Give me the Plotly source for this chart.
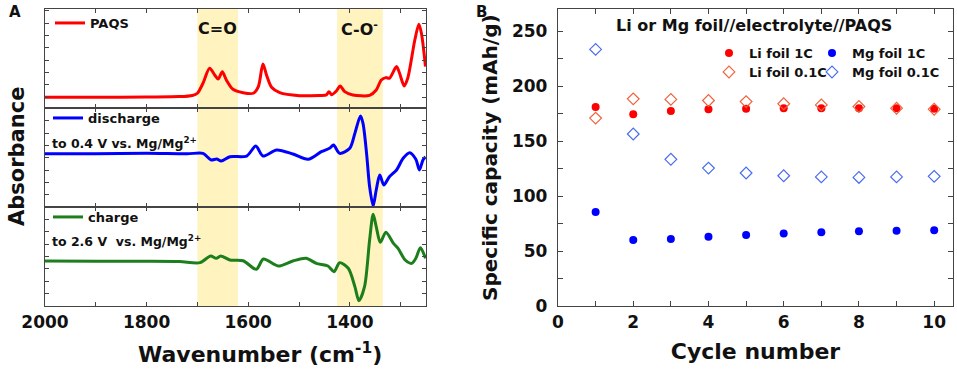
import plotly.graph_objects as go

# ---------------- Panel A data (FTIR spectra) ----------------
paqs_wn = [2000, 1900, 1800, 1735, 1710, 1700, 1689, 1676, 1666, 1659, 1651, 1643, 1630, 1610,
           1590, 1580, 1571, 1564, 1554, 1538, 1499, 1460, 1446, 1441, 1436, 1426, 1419, 1410,
           1394, 1361, 1348, 1338, 1329, 1322, 1308, 1302, 1293, 1286, 1272, 1264, 1259, 1251]
paqs_abs = [0.111, 0.111, 0.114, 0.118, 0.13, 0.152, 0.253, 0.404, 0.337, 0.296, 0.370, 0.286,
            0.192, 0.158, 0.152, 0.219, 0.448, 0.337, 0.212, 0.158, 0.128, 0.13, 0.135, 0.168,
            0.138, 0.178, 0.226, 0.168, 0.135, 0.131, 0.185, 0.286, 0.310, 0.303, 0.421, 0.354,
            0.226, 0.303, 0.690, 0.850, 0.758, 0.421]

dis_wn = [2000, 1900, 1800, 1720, 1689, 1673, 1662, 1653, 1636, 1603, 1585, 1571, 1544, 1512,
          1482, 1456, 1440, 1432, 1420, 1400, 1390, 1379, 1374, 1367, 1361, 1354, 1348, 1341,
          1333, 1322, 1308, 1295, 1282, 1270, 1263, 1256, 1251]
dis_abs = [0.54, 0.54, 0.545, 0.54, 0.545, 0.478, 0.488, 0.468, 0.511, 0.518, 0.619, 0.518,
           0.579, 0.538, 0.485, 0.562, 0.596, 0.629, 0.545, 0.596, 0.747, 0.922, 0.848, 0.545,
           0.208, 0.013, 0.175, 0.326, 0.225, 0.309, 0.377, 0.495, 0.552, 0.485, 0.377, 0.478,
           0.51]

chg_wn = [2000, 1900, 1800, 1735, 1695, 1674, 1663, 1654, 1636, 1610, 1584, 1570, 1541, 1512,
          1486, 1466, 1443, 1431, 1420, 1403, 1390, 1382, 1371, 1361, 1354, 1348, 1340, 1329,
          1314, 1305, 1291, 1278, 1270, 1261, 1251]
chg_abs = [0.456, 0.453, 0.453, 0.45, 0.439, 0.507, 0.483, 0.507, 0.466, 0.459, 0.372, 0.476,
           0.405, 0.456, 0.483, 0.432, 0.405, 0.348, 0.439, 0.382, 0.196, 0.054, 0.196, 0.669,
           0.929, 0.804, 0.645, 0.747, 0.635, 0.584, 0.466, 0.432, 0.483, 0.591, 0.483]

bands = [(1700, 1620), (1425, 1335)]
band_labels = ["C=O", "C-O<sup>-</sup>"]

# ---------------- Panel B data (cycling) ----------------
cycles = [1, 2, 3, 4, 5, 6, 7, 8, 9, 10]
li_1c = [181, 174.5, 177.5, 179, 179.5, 180, 180, 180, 180, 179.5]
li_01c = [171, 188.5, 188, 187, 186, 184, 183, 181.5, 180, 179]
mg_1c = [85.5, 60, 61, 63, 64.5, 66, 67, 68, 68.5, 69]
mg_01c = [233.5, 156.5, 133.5, 125.5, 121, 118.5, 117.5, 117, 117.5, 118]

W, H = 957, 372
def px(x):
    return x / W
def py(y):
    return 1 - y / H

FONT = "DejaVu Sans"
AX = "#444444"

fig = go.Figure()

# spectra
fig.add_trace(go.Scatter(x=paqs_wn, y=paqs_abs, mode="lines", name="PAQS", showlegend=True,
                         line=dict(color="#ff0000", width=3, shape="spline", smoothing=0.8),
                         xaxis="x", yaxis="y", legend="legend3"))
fig.add_trace(go.Scatter(x=dis_wn, y=dis_abs, mode="lines", name="discharge", showlegend=True,
                         line=dict(color="#0000ff", width=3, shape="spline", smoothing=0.8),
                         xaxis="x2", yaxis="y2", legend="legend4"))
fig.add_trace(go.Scatter(x=chg_wn, y=chg_abs, mode="lines", name="charge", showlegend=True,
                         line=dict(color="#1c7f1c", width=3, shape="spline", smoothing=0.8),
                         xaxis="x3", yaxis="y3", legend="legend5"))

# cycling
fig.add_trace(go.Scatter(x=cycles, y=li_1c, mode="markers", name="Li foil 1C", showlegend=True,
                         marker=dict(symbol="circle", size=8, color="#ff0000"),
                         xaxis="x4", yaxis="y4", legend="legend"))
fig.add_trace(go.Scatter(x=cycles, y=mg_1c, mode="markers", name="Mg foil 1C", showlegend=True,
                         marker=dict(symbol="circle", size=8, color="#0000ff"),
                         xaxis="x4", yaxis="y4", legend="legend2"))
fig.add_trace(go.Scatter(x=cycles, y=li_01c, mode="markers", name="Li foil 0.1C", showlegend=True,
                         marker=dict(symbol="diamond-open", size=9, color="#f0623c",
                                     line=dict(width=1.2)),
                         xaxis="x4", yaxis="y4", legend="legend6"))
fig.add_trace(go.Scatter(x=cycles, y=mg_01c, mode="markers", name="Mg foil 0.1C", showlegend=True,
                         marker=dict(symbol="diamond-open", size=9, color="#4a6cf0",
                                     line=dict(width=1.2)),
                         xaxis="x4", yaxis="y4", legend="legend7"))

xa_dom = [px(45), px(426)]
ydoms = [[py(108.3), py(9.3)], [py(207.3), py(108.3)], [py(306), py(207.3)]]

common = dict(showline=True, linecolor=AX, linewidth=1.3, mirror="ticks", ticks="inside",
              tickcolor=AX, showgrid=False, zeroline=False, automargin=False)

# panel A axes
for i, name in enumerate(["xaxis", "xaxis2", "xaxis3"]):
    d = dict(common)
    d.update(domain=xa_dom, range=[2000, 1250], anchor=["y", "y2", "y3"][i],
             dtick=200, tick0=2000, ticklen=4, minor=dict(dtick=100, ticklen=4, ticks="inside",
                                                         tickcolor=AX),
             showticklabels=(i == 2), tickfont=dict(size=17))
    if i > 0:
        d["matches"] = "x"
    fig.layout[name] = d
for i, name in enumerate(["yaxis", "yaxis2", "yaxis3"]):
    d = dict(common)
    d.update(domain=ydoms[i], range=[0, 1], anchor=["x", "x2", "x3"][i],
             tick0=0.111 if i == 0 else 0, dtick=0.1246 if i == 0 else 0.125,
             ticklen=4, showticklabels=False)
    fig.layout[name] = d

# panel B axes
fig.layout["xaxis4"] = dict(common, domain=[px(558), px(953)], range=[0, 10.5], anchor="y4",
                            dtick=2, ticklen=5, tickfont=dict(size=17),
                            minor=dict(dtick=1, ticklen=5, ticks="inside", tickcolor=AX),
                            title=dict(text="Cycle number", font=dict(size=22), standoff=13))
fig.layout["yaxis4"] = dict(common, domain=[py(306), py(9.3)], range=[0, 270], anchor="x4",
                            dtick=50, ticklen=5, tickfont=dict(size=17), ticklabelstandoff=6,
                            minor=dict(dtick=25, ticklen=5, ticks="inside", tickcolor=AX),
                            title=dict(text="Specific capacity (mAh/g)", font=dict(size=20),
                                       standoff=8))

# shaded bands
for lo, hi in bands:
    fig.add_shape(type="rect", xref="x", yref="paper", x0=lo, x1=hi, y0=py(306), y1=py(9.3),
                  fillcolor="#fff3bf", line=dict(width=0), layer="below")

annots = []
for (lo, hi), lab in zip(bands, band_labels):
    annots.append(dict(x=(lo + hi) / 2, xref="x", y=py(28), yref="paper", text=lab,
                       showarrow=False, font=dict(size=16), xanchor="center", yanchor="middle"))
annots += [
    dict(x=px(15), y=py(12), text="A", font=dict(size=15)),
    dict(x=px(481), y=py(12), text="B", font=dict(size=15)),
    dict(x=px(17), y=py(157), text="Absorbance", textangle=-90, font=dict(size=21)),
    dict(x=px(260), y=py(353), text="Wavenumber (cm<sup>-1</sup>)", font=dict(size=22)),
    dict(x=px(50), y=py(143), text="to 0.4 V vs. Mg/Mg<sup>2+</sup>", xanchor="left",
         font=dict(size=12.5)),
    dict(x=px(50), y=py(241), text="to 2.6 V\u00a0 vs. Mg/Mg<sup>2+</sup>", xanchor="left",
         font=dict(size=12.5)),
    dict(x=px(754), y=py(26), text="Li or Mg foil//electrolyte//PAQS", font=dict(size=16)),
]
for a in annots:
    a.setdefault("xref", "paper")
    a.setdefault("yref", "paper")
    a.setdefault("showarrow", False)
    a.setdefault("xanchor", "center")
    a.setdefault("yanchor", "middle")
fig.update_layout(annotations=annots)

leg_common = dict(bgcolor="rgba(0,0,0,0)", borderwidth=0, font=dict(size=13),
                  xanchor="left", yanchor="middle", orientation="v", tracegroupgap=0)
fig.update_layout(
    width=W, height=H, margin=dict(l=0, r=0, t=0, b=0, autoexpand=False),
    paper_bgcolor="white", plot_bgcolor="white", showlegend=True,
    font=dict(family=FONT, size=14, color="#111111", weight="bold"),
    legend=dict(leg_common, x=px(709), y=py(53), visible=True),
    legend2=dict(leg_common, x=px(812), y=py(53)),
    legend6=dict(leg_common, x=px(709), y=py(72)),
    legend7=dict(leg_common, x=px(812), y=py(72)),
    legend3=dict(leg_common, x=px(50), y=py(23)),
    legend4=dict(leg_common, x=px(48), y=py(118)),
    legend5=dict(leg_common, x=px(48), y=py(217)),
)

fig.write_html("out.html", config={"displayModeBar": False},
               post_script="document.body.style.margin='0';document.body.style.padding='0';")
